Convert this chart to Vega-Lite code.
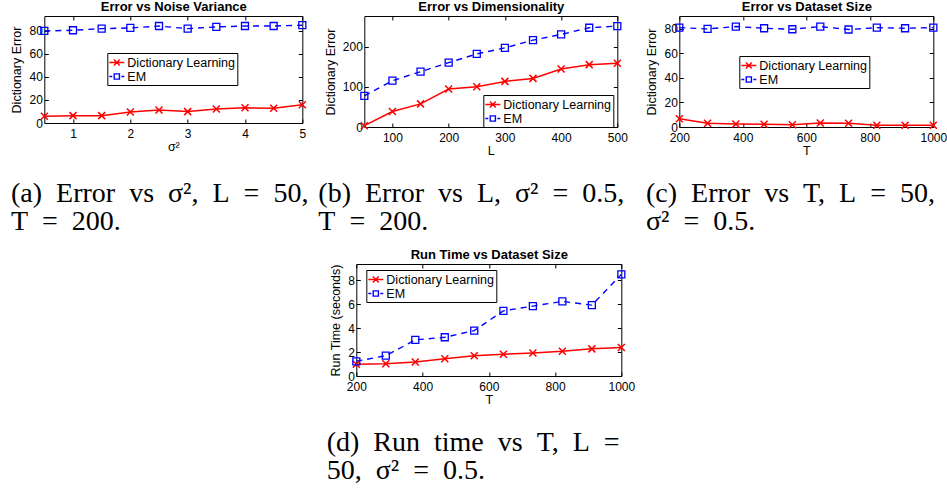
{
"$schema": "https://vega.github.io/schema/vega-lite/v6.json",
"padding": {"left": 10, "top": 0, "right": 0, "bottom": 0},
"center": true,
"spacing": 12,
"resolve": {"scale": {"color": "independent", "shape": "independent"}},
"vconcat": [
{
"hconcat": [
{
"width": 258, "height": 107,
"title": {"text": ["(a)\u2002Error\u2002vs\u2002σ²,\u2002L\u2002=\u200250,", "T\u2002=\u2002200."], "orient": "bottom", "anchor": "start", "frame": "bounds", "offset": 27, "dx": 0},
"data": {"values": [
{"x": 0.5, "y": 5.8, "series": "Dictionary Learning"},
{"x": 1, "y": 6.4, "series": "Dictionary Learning"},
{"x": 1.5, "y": 6.4, "series": "Dictionary Learning"},
{"x": 2, "y": 9.6, "series": "Dictionary Learning"},
{"x": 2.5, "y": 11.3, "series": "Dictionary Learning"},
{"x": 3, "y": 9.9, "series": "Dictionary Learning"},
{"x": 3.5, "y": 12.2, "series": "Dictionary Learning"},
{"x": 4, "y": 13.3, "series": "Dictionary Learning"},
{"x": 4.5, "y": 12.8, "series": "Dictionary Learning"},
{"x": 5, "y": 15.9, "series": "Dictionary Learning"},
{"x": 0.5, "y": 80.0, "series": "EM"},
{"x": 1, "y": 80.6, "series": "EM"},
{"x": 1.5, "y": 82.0, "series": "EM"},
{"x": 2, "y": 82.6, "series": "EM"},
{"x": 2.5, "y": 84.3, "series": "EM"},
{"x": 3, "y": 82.0, "series": "EM"},
{"x": 3.5, "y": 83.5, "series": "EM"},
{"x": 4, "y": 84.3, "series": "EM"},
{"x": 4.5, "y": 84.3, "series": "EM"},
{"x": 5, "y": 85.0, "series": "EM"}
]},
"layer": [
{"transform": [{"filter": "datum.series === 'Dictionary Learning'"}],
 "mark": {"type": "line", "color": "#ff0000", "strokeWidth": 1.5},
 "encoding": {
  "x": {"field": "x", "type": "quantitative", "scale": {"domain": [0.5, 5], "nice": false, "zero": false}, "axis": {"orient": "bottom", "values": [1, 2, 3, 4, 5], "title": "σ²"}},
  "y": {"field": "y", "type": "quantitative", "scale": {"domain": [0, 93], "nice": false}, "axis": {"orient": "left", "values": [0, 20, 40, 60, 80], "title": "Dictionary Error"}}}},
{"transform": [{"filter": "datum.series === 'EM'"}],
 "mark": {"type": "line", "color": "#0000ff", "strokeWidth": 1.4, "strokeDash": [6, 5]},
 "encoding": {
  "x": {"field": "x", "type": "quantitative", "scale": {"domain": [0.5, 5], "nice": false, "zero": false}, "axis": {"orient": "top", "values": [1, 2, 3, 4, 5], "labels": false, "title": "Error vs Noise Variance"}},
  "y": {"field": "y", "type": "quantitative", "scale": {"domain": [0, 93], "nice": false}, "axis": {"orient": "right", "values": [0, 20, 40, 60, 80], "labels": false, "title": null}}}},
{"transform": [{"filter": "datum.series === 'Dictionary Learning'"}],
 "mark": {"type": "point", "shape": "M-1,-1L1,1M-1,1L1,-1", "color": "#ff0000", "filled": false, "size": 49, "strokeWidth": 1.5, "opacity": 1},
 "encoding": {
  "x": {"field": "x", "type": "quantitative", "scale": {"domain": [0.5, 5], "nice": false, "zero": false}, "axis": null},
  "y": {"field": "y", "type": "quantitative", "scale": {"domain": [0, 93], "nice": false}, "axis": null}}},
{"transform": [{"filter": "datum.series === 'EM'"}],
 "mark": {"type": "point", "shape": "square", "color": "#0000ff", "filled": false, "size": 49, "strokeWidth": 1.3, "opacity": 1},
 "encoding": {
  "x": {"field": "x", "type": "quantitative", "scale": {"domain": [0.5, 5], "nice": false, "zero": false}, "axis": null},
  "y": {"field": "y", "type": "quantitative", "scale": {"domain": [0, 93], "nice": false}, "axis": null}}},
{"data": {"values": []},
 "mark": {"type": "point", "filled": false, "opacity": 1, "strokeWidth": 1.4},
 "encoding": {
  "color": {"field": "series", "type": "nominal", "scale": {"domain": ["Dictionary Learning", "EM"], "range": ["#ff0000", "#0000ff"]}, "legend": {"orient": "none", "legendX": 63, "legendY": 37, "title": null}},
  "shape": {"field": "series", "type": "nominal", "scale": {"domain": ["Dictionary Learning", "EM"], "range": ["M-1.15,0H1.15M-0.45,-0.45L0.45,0.45M-0.45,0.45L0.45,-0.45", "M-1.15,0H-0.7M-0.4,-0.4H0.4V0.4H-0.4ZM0.7,0H1.15"]}, "legend": {"orient": "none", "legendX": 63, "legendY": 37, "title": null}}}}
],
"resolve": {"axis": {"x": "independent", "y": "independent"}}
},
{
"width": 253, "height": 111,
"title": {"text": ["(b)\u2002Error\u2002vs\u2002L,\u2002σ²\u2002=\u20020.5,", "T\u2002=\u2002200."], "orient": "bottom", "anchor": "start", "frame": "bounds", "offset": 23, "dx": -6},
"data": {"values": [
{"x": 50, "y": 3.3, "series": "Dictionary Learning"},
{"x": 100, "y": 38.5, "series": "Dictionary Learning"},
{"x": 150, "y": 57.7, "series": "Dictionary Learning"},
{"x": 200, "y": 94.6, "series": "Dictionary Learning"},
{"x": 250, "y": 100.4, "series": "Dictionary Learning"},
{"x": 300, "y": 113.8, "series": "Dictionary Learning"},
{"x": 350, "y": 121.3, "series": "Dictionary Learning"},
{"x": 400, "y": 144.8, "series": "Dictionary Learning"},
{"x": 450, "y": 155.6, "series": "Dictionary Learning"},
{"x": 500, "y": 159.0, "series": "Dictionary Learning"},
{"x": 50, "y": 77.8, "series": "EM"},
{"x": 100, "y": 115.5, "series": "EM"},
{"x": 150, "y": 138.0, "series": "EM"},
{"x": 200, "y": 160.7, "series": "EM"},
{"x": 250, "y": 182.4, "series": "EM"},
{"x": 300, "y": 197.5, "series": "EM"},
{"x": 350, "y": 216.7, "series": "EM"},
{"x": 400, "y": 231.0, "series": "EM"},
{"x": 450, "y": 247.7, "series": "EM"},
{"x": 500, "y": 251.9, "series": "EM"}
]},
"layer": [
{"transform": [{"filter": "datum.series === 'Dictionary Learning'"}],
 "mark": {"type": "line", "color": "#ff0000", "strokeWidth": 1.5},
 "encoding": {
  "x": {"field": "x", "type": "quantitative", "scale": {"domain": [50, 500], "nice": false, "zero": false}, "axis": {"orient": "bottom", "values": [100, 200, 300, 400, 500], "title": "L"}},
  "y": {"field": "y", "type": "quantitative", "scale": {"domain": [0, 277], "nice": false}, "axis": {"orient": "left", "values": [0, 100, 200], "title": "Dictionary Error"}}}},
{"transform": [{"filter": "datum.series === 'EM'"}],
 "mark": {"type": "line", "color": "#0000ff", "strokeWidth": 1.4, "strokeDash": [6, 5]},
 "encoding": {
  "x": {"field": "x", "type": "quantitative", "scale": {"domain": [50, 500], "nice": false, "zero": false}, "axis": {"orient": "top", "values": [100, 200, 300, 400, 500], "labels": false, "title": "Error vs Dimensionality"}},
  "y": {"field": "y", "type": "quantitative", "scale": {"domain": [0, 277], "nice": false}, "axis": {"orient": "right", "values": [0, 100, 200], "labels": false, "title": null}}}},
{"transform": [{"filter": "datum.series === 'Dictionary Learning'"}],
 "mark": {"type": "point", "shape": "M-1,-1L1,1M-1,1L1,-1", "color": "#ff0000", "filled": false, "size": 49, "strokeWidth": 1.5, "opacity": 1},
 "encoding": {
  "x": {"field": "x", "type": "quantitative", "scale": {"domain": [50, 500], "nice": false, "zero": false}, "axis": null},
  "y": {"field": "y", "type": "quantitative", "scale": {"domain": [0, 277], "nice": false}, "axis": null}}},
{"transform": [{"filter": "datum.series === 'EM'"}],
 "mark": {"type": "point", "shape": "square", "color": "#0000ff", "filled": false, "size": 49, "strokeWidth": 1.3, "opacity": 1},
 "encoding": {
  "x": {"field": "x", "type": "quantitative", "scale": {"domain": [50, 500], "nice": false, "zero": false}, "axis": null},
  "y": {"field": "y", "type": "quantitative", "scale": {"domain": [0, 277], "nice": false}, "axis": null}}},
{"data": {"values": []},
 "mark": {"type": "point", "filled": false, "opacity": 1, "strokeWidth": 1.4},
 "encoding": {
  "color": {"field": "series", "type": "nominal", "scale": {"domain": ["Dictionary Learning", "EM"], "range": ["#ff0000", "#0000ff"]}, "legend": {"orient": "none", "legendX": 119, "legendY": 79, "title": null}},
  "shape": {"field": "series", "type": "nominal", "scale": {"domain": ["Dictionary Learning", "EM"], "range": ["M-1.15,0H1.15M-0.45,-0.45L0.45,0.45M-0.45,0.45L0.45,-0.45", "M-1.15,0H-0.7M-0.4,-0.4H0.4V0.4H-0.4ZM0.7,0H1.15"]}, "legend": {"orient": "none", "legendX": 119, "legendY": 79, "title": null}}}}
],
"resolve": {"axis": {"x": "independent", "y": "independent"}}
},
{
"width": 254, "height": 111,
"title": {"text": ["(c)\u2002Error\u2002vs\u2002T,\u2002L\u2002=\u200250,", "σ²\u2002=\u20020.5."], "orient": "bottom", "anchor": "start", "frame": "bounds", "offset": 23, "dx": 0},
"data": {"values": [
{"x": 200, "y": 6.8, "series": "Dictionary Learning"},
{"x": 289, "y": 3.0, "series": "Dictionary Learning"},
{"x": 378, "y": 2.4, "series": "Dictionary Learning"},
{"x": 467, "y": 2.2, "series": "Dictionary Learning"},
{"x": 556, "y": 1.9, "series": "Dictionary Learning"},
{"x": 644, "y": 3.2, "series": "Dictionary Learning"},
{"x": 733, "y": 3.0, "series": "Dictionary Learning"},
{"x": 822, "y": 1.4, "series": "Dictionary Learning"},
{"x": 911, "y": 1.4, "series": "Dictionary Learning"},
{"x": 1000, "y": 1.4, "series": "Dictionary Learning"},
{"x": 200, "y": 81.0, "series": "EM"},
{"x": 289, "y": 80.0, "series": "EM"},
{"x": 378, "y": 81.9, "series": "EM"},
{"x": 467, "y": 80.5, "series": "EM"},
{"x": 556, "y": 79.7, "series": "EM"},
{"x": 644, "y": 81.9, "series": "EM"},
{"x": 733, "y": 79.5, "series": "EM"},
{"x": 822, "y": 81.0, "series": "EM"},
{"x": 911, "y": 80.5, "series": "EM"},
{"x": 1000, "y": 81.0, "series": "EM"}
]},
"layer": [
{"transform": [{"filter": "datum.series === 'Dictionary Learning'"}],
 "mark": {"type": "line", "color": "#ff0000", "strokeWidth": 1.5},
 "encoding": {
  "x": {"field": "x", "type": "quantitative", "scale": {"domain": [200, 1000], "nice": false, "zero": false}, "axis": {"orient": "bottom", "values": [200, 400, 600, 800, 1000], "format": "d", "title": "T"}},
  "y": {"field": "y", "type": "quantitative", "scale": {"domain": [0, 90.5], "nice": false}, "axis": {"orient": "left", "values": [0, 20, 40, 60, 80], "title": "Dictionary Error"}}}},
{"transform": [{"filter": "datum.series === 'EM'"}],
 "mark": {"type": "line", "color": "#0000ff", "strokeWidth": 1.4, "strokeDash": [6, 5]},
 "encoding": {
  "x": {"field": "x", "type": "quantitative", "scale": {"domain": [200, 1000], "nice": false, "zero": false}, "axis": {"orient": "top", "values": [200, 400, 600, 800, 1000], "labels": false, "title": "Error vs Dataset Size"}},
  "y": {"field": "y", "type": "quantitative", "scale": {"domain": [0, 90.5], "nice": false}, "axis": {"orient": "right", "values": [0, 20, 40, 60, 80], "labels": false, "title": null}}}},
{"transform": [{"filter": "datum.series === 'Dictionary Learning'"}],
 "mark": {"type": "point", "shape": "M-1,-1L1,1M-1,1L1,-1", "color": "#ff0000", "filled": false, "size": 49, "strokeWidth": 1.5, "opacity": 1},
 "encoding": {
  "x": {"field": "x", "type": "quantitative", "scale": {"domain": [200, 1000], "nice": false, "zero": false}, "axis": null},
  "y": {"field": "y", "type": "quantitative", "scale": {"domain": [0, 90.5], "nice": false}, "axis": null}}},
{"transform": [{"filter": "datum.series === 'EM'"}],
 "mark": {"type": "point", "shape": "square", "color": "#0000ff", "filled": false, "size": 49, "strokeWidth": 1.3, "opacity": 1},
 "encoding": {
  "x": {"field": "x", "type": "quantitative", "scale": {"domain": [200, 1000], "nice": false, "zero": false}, "axis": null},
  "y": {"field": "y", "type": "quantitative", "scale": {"domain": [0, 90.5], "nice": false}, "axis": null}}},
{"data": {"values": []},
 "mark": {"type": "point", "filled": false, "opacity": 1, "strokeWidth": 1.4},
 "encoding": {
  "color": {"field": "series", "type": "nominal", "scale": {"domain": ["Dictionary Learning", "EM"], "range": ["#ff0000", "#0000ff"]}, "legend": {"orient": "none", "legendX": 60, "legendY": 40, "title": null}},
  "shape": {"field": "series", "type": "nominal", "scale": {"domain": ["Dictionary Learning", "EM"], "range": ["M-1.15,0H1.15M-0.45,-0.45L0.45,0.45M-0.45,0.45L0.45,-0.45", "M-1.15,0H-0.7M-0.4,-0.4H0.4V0.4H-0.4ZM0.7,0H1.15"]}, "legend": {"orient": "none", "legendX": 60, "legendY": 40, "title": null}}}}
],
"resolve": {"axis": {"x": "independent", "y": "independent"}}
}
],
"spacing": 62,
"bounds": "flush",
"resolve": {"scale": {"color": "independent", "shape": "independent"}}
},
{
"width": 265, "height": 112,
"title": {"text": ["(d)\u2002Run\u2002time\u2002vs\u2002T,\u2002L\u2002=", "50,\u2002σ²\u2002=\u20020.5."], "orient": "bottom", "anchor": "start", "frame": "bounds", "offset": 23, "dx": -3},
"data": {"values": [
{"x": 200, "y": 0.98, "series": "Dictionary Learning"},
{"x": 289, "y": 1.03, "series": "Dictionary Learning"},
{"x": 378, "y": 1.17, "series": "Dictionary Learning"},
{"x": 467, "y": 1.45, "series": "Dictionary Learning"},
{"x": 556, "y": 1.70, "series": "Dictionary Learning"},
{"x": 644, "y": 1.82, "series": "Dictionary Learning"},
{"x": 733, "y": 1.93, "series": "Dictionary Learning"},
{"x": 822, "y": 2.07, "series": "Dictionary Learning"},
{"x": 911, "y": 2.27, "series": "Dictionary Learning"},
{"x": 1000, "y": 2.38, "series": "Dictionary Learning"},
{"x": 200, "y": 1.23, "series": "EM"},
{"x": 289, "y": 1.70, "series": "EM"},
{"x": 378, "y": 3.02, "series": "EM"},
{"x": 467, "y": 3.24, "series": "EM"},
{"x": 556, "y": 3.80, "series": "EM"},
{"x": 644, "y": 5.45, "series": "EM"},
{"x": 733, "y": 5.85, "series": "EM"},
{"x": 822, "y": 6.24, "series": "EM"},
{"x": 911, "y": 5.93, "series": "EM"},
{"x": 1000, "y": 8.50, "series": "EM"}
]},
"layer": [
{"transform": [{"filter": "datum.series === 'Dictionary Learning'"}],
 "mark": {"type": "line", "color": "#ff0000", "strokeWidth": 1.5},
 "encoding": {
  "x": {"field": "x", "type": "quantitative", "scale": {"domain": [200, 1000], "nice": false, "zero": false}, "axis": {"orient": "bottom", "values": [200, 400, 600, 800, 1000], "format": "d", "title": "T"}},
  "y": {"field": "y", "type": "quantitative", "scale": {"domain": [0, 9.37], "nice": false}, "axis": {"orient": "left", "values": [0, 2, 4, 6, 8], "title": "Run Time (seconds)"}}}},
{"transform": [{"filter": "datum.series === 'EM'"}],
 "mark": {"type": "line", "color": "#0000ff", "strokeWidth": 1.4, "strokeDash": [6, 5]},
 "encoding": {
  "x": {"field": "x", "type": "quantitative", "scale": {"domain": [200, 1000], "nice": false, "zero": false}, "axis": {"orient": "top", "values": [200, 400, 600, 800, 1000], "labels": false, "title": "Run Time vs Dataset Size"}},
  "y": {"field": "y", "type": "quantitative", "scale": {"domain": [0, 9.37], "nice": false}, "axis": {"orient": "right", "values": [0, 2, 4, 6, 8], "labels": false, "title": null}}}},
{"transform": [{"filter": "datum.series === 'Dictionary Learning'"}],
 "mark": {"type": "point", "shape": "M-1,-1L1,1M-1,1L1,-1", "color": "#ff0000", "filled": false, "size": 49, "strokeWidth": 1.5, "opacity": 1},
 "encoding": {
  "x": {"field": "x", "type": "quantitative", "scale": {"domain": [200, 1000], "nice": false, "zero": false}, "axis": null},
  "y": {"field": "y", "type": "quantitative", "scale": {"domain": [0, 9.37], "nice": false}, "axis": null}}},
{"transform": [{"filter": "datum.series === 'EM'"}],
 "mark": {"type": "point", "shape": "square", "color": "#0000ff", "filled": false, "size": 49, "strokeWidth": 1.3, "opacity": 1},
 "encoding": {
  "x": {"field": "x", "type": "quantitative", "scale": {"domain": [200, 1000], "nice": false, "zero": false}, "axis": null},
  "y": {"field": "y", "type": "quantitative", "scale": {"domain": [0, 9.37], "nice": false}, "axis": null}}},
{"data": {"values": []},
 "mark": {"type": "point", "filled": false, "opacity": 1, "strokeWidth": 1.4},
 "encoding": {
  "color": {"field": "series", "type": "nominal", "scale": {"domain": ["Dictionary Learning", "EM"], "range": ["#ff0000", "#0000ff"]}, "legend": {"orient": "none", "legendX": 10, "legendY": 6, "title": null}},
  "shape": {"field": "series", "type": "nominal", "scale": {"domain": ["Dictionary Learning", "EM"], "range": ["M-1.15,0H1.15M-0.45,-0.45L0.45,0.45M-0.45,0.45L0.45,-0.45", "M-1.15,0H-0.7M-0.4,-0.4H0.4V0.4H-0.4ZM0.7,0H1.15"]}, "legend": {"orient": "none", "legendX": 10, "legendY": 6, "title": null}}}}
],
"resolve": {"axis": {"x": "independent", "y": "independent"}}
}
],
"config": {
 "view": {"stroke": null},
 "font": "Liberation Sans",
 "axis": {"grid": false, "domainColor": "#000", "tickColor": "#000", "labelColor": "#000", "titleColor": "#000", "labelFont": "Liberation Sans", "titleFont": "Liberation Sans", "labelFontSize": 12, "titleFontSize": 12.5, "titleFontWeight": "normal", "tickSize": -4, "labelFlush": false, "labelOverlap": false, "labelPadding": 6, "titlePadding": 4},
 "axisBottom": {"labelPadding": 9, "titlePadding": 1},
 "axisLeft": {"labelPadding": 6, "titlePadding": 5},
 "axisTop": {"titlePadding": 2, "titleFontWeight": "bold", "titleFontSize": 13},
 "title": {"font": "Liberation Serif", "fontSize": 28, "fontWeight": "normal", "color": "#000", "lineHeight": 28},
 "legend": {"strokeColor": "#000", "fillColor": "#fff", "padding": 2, "symbolSize": 169, "symbolStrokeWidth": 1.4, "labelFont": "Liberation Sans", "labelFontSize": 12.5, "labelColor": "#000", "labelOffset": 3, "rowPadding": 0, "cornerRadius": 0, "symbolOpacity": 1}
}
}
